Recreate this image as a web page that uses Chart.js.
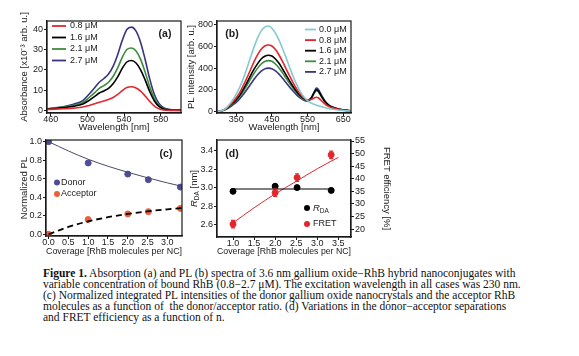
<!DOCTYPE html>
<html>
<head>
<meta charset="utf-8">
<script src="https://cdn.jsdelivr.net/npm/chart.js@4.4.1/dist/chart.umd.min.js"></script>
<style>
  body { margin: 0; background: #fff; width: 579px; height: 356px; position: relative; overflow: hidden; }
  .panel { position: absolute; }
  #cap { position: absolute; left: 43px; top: 268px; font-family: "Liberation Serif", "Times New Roman", serif;
         font-size: 11.5px; line-height: 11px; color: #111; white-space: nowrap; }
</style>
</head>
<body>
<canvas id="chartA" class="panel" width="173" height="133" style="left:19px;top:0px"></canvas>
<canvas id="chartB" class="panel" width="204" height="133" style="left:186px;top:0px"></canvas>
<canvas id="chartC" class="panel" width="173" height="127" style="left:19px;top:130px"></canvas>
<canvas id="chartD" class="panel" width="206" height="127" style="left:186px;top:130px"></canvas>
<div id="cap"><b>Figure 1.</b> Absorption (a) and PL (b) spectra of 3.6 nm gallium oxide−RhB hybrid nanoconjugates with<br>variable concentration of bound RhB (0.8−2.7 μM). The excitation wavelength in all cases was 230 nm.<br>(c) Normalized integrated PL intensities of the donor gallium oxide nanocrystals and the acceptor RhB<br>molecules as a function of&nbsp; the donor/acceptor ratio. (d) Variations in the donor−acceptor separations<br>and FRET efficiency as a function of n.</div>
<script>
// (a) absorption spectra
const wlAbs = [456, 465, 475, 485, 495, 502, 508, 513, 518, 523, 528, 533, 538, 543, 548, 553, 558, 563, 568, 573, 578, 583, 590, 602];
const abs08 = [0.6, 0.8, 1.0, 1.3, 1.8, 2.6, 3.4, 4.2, 4.8, 5.5, 6.5, 8.0, 9.9, 11.4, 11.8, 11.2, 9.6, 7.2, 4.5, 2.3, 1.0, 0.4, 0.2, 0.1];
const abs16 = [0.8, 1.1, 1.6, 2.2, 3.3, 5.1, 7.0, 8.7, 9.7, 11.0, 13.2, 16.6, 20.8, 23.9, 24.6, 23.4, 20.1, 15.0, 9.3, 4.8, 2.1, 0.9, 0.4, 0.2];
const abs21 = [0.9, 1.3, 1.9, 2.7, 4.1, 6.5, 8.9, 11.0, 12.3, 14.0, 16.8, 21.0, 26.2, 30.0, 30.8, 29.3, 25.2, 18.8, 11.7, 6.0, 2.7, 1.1, 0.5, 0.3];
const abs27 = [1.0, 1.4, 2.1, 3.2, 5.0, 8.2, 11.3, 14.0, 15.8, 18.0, 21.8, 27.5, 34.5, 39.8, 41.0, 39.0, 33.5, 25.0, 15.5, 8.0, 3.6, 1.5, 0.6, 0.4];
const absTicksX = [460, 500, 540, 580];
const absTicksY = [0, 10, 20, 30, 40];

// (b) PL spectra
const wlPL = [290, 300, 310, 320, 330, 340, 350, 360, 370, 380, 390, 400, 410, 420, 430, 440, 450, 460, 470, 480, 490, 500, 510, 520, 530, 540, 550, 560, 570, 575, 580, 590, 600, 610, 620, 640, 660, 680];
const pl00 = [0, 1, 6, 25, 60, 105, 160, 225, 305, 400, 500, 595, 680, 745, 780, 790, 770, 725, 660, 580, 495, 405, 320, 245, 180, 132, 98, 76, 62, 57, 52, 42, 33, 25, 18, 9, 4, 2];
const pl08 = [0, 1, 6, 22, 50, 85, 125, 175, 240, 310, 385, 460, 525, 575, 605, 615, 605, 572, 522, 460, 392, 325, 262, 205, 158, 125, 107, 110, 126, 130, 125, 95, 65, 45, 32, 15, 7, 3];
const pl16 = [0, 1, 5, 20, 44, 74, 108, 150, 205, 265, 330, 390, 442, 485, 510, 520, 512, 485, 445, 392, 335, 280, 228, 182, 144, 117, 103, 122, 182, 200, 190, 135, 85, 55, 38, 18, 8, 3];
const pl21 = [0, 1, 5, 19, 41, 68, 98, 137, 186, 240, 298, 352, 400, 438, 462, 470, 463, 438, 402, 356, 305, 256, 210, 168, 134, 110, 99, 116, 172, 190, 182, 130, 82, 53, 37, 17, 7, 3];
const pl27 = [0, 1, 4, 16, 35, 58, 83, 116, 157, 202, 250, 297, 338, 372, 393, 400, 394, 374, 344, 306, 264, 223, 185, 150, 121, 101, 93, 116, 188, 215, 205, 145, 90, 58, 40, 19, 8, 3];
const plTicksX = [350, 450, 550, 650];
const plTicksY = [0, 200, 400, 600, 800];

// (c) normalized PL vs coverage
const coverage = [0.0, 1.0, 2.0, 2.52, 3.33];
const donorPL = [1.0, 0.77, 0.65, 0.59, 0.51];
const acceptorPL = [0.0, 0.16, 0.22, 0.245, 0.28];
const fitX = [0.0, 0.5, 1.0, 1.5, 2.0, 2.5, 3.0, 3.4];
const donorFit = [1.0, 0.9, 0.81, 0.735, 0.67, 0.61, 0.555, 0.515];
const acceptorFit = [0.0, 0.08, 0.14, 0.185, 0.22, 0.248, 0.27, 0.285];
const covTicksX = [0, 0.5, 1.0, 1.5, 2.0, 2.5, 3.0];
const normTicksY = [0, 0.2, 0.4, 0.6, 0.8, 1.0];

// (d) R_DA and FRET efficiency
const covD = [1.0, 2.0, 2.52, 3.33];
const rda = [2.96, 3.015, 3.0, 2.97];
const rdaErr = [0.02, 0.02, 0.02, 0.02];
const rdaMean = 2.985;
const fret = [22, 34.5, 40.5, 49.5];
const fretErr = [1.5, 1.5, 1.5, 1.5];
const fretFitX = [1.0, 1.5, 2.0, 2.5, 3.0, 3.5];
const fretFit = [22.5, 28.5, 34, 39, 44, 48.5];
const covDTicksX = [1.0, 1.5, 2.0, 2.5, 3.0, 3.5];
const rdaTicksY = [2.6, 2.8, 3.0, 3.2, 3.4];
const fretTicksY = [20, 25, 30, 35, 40, 45, 50, 55];

const FONT = '"Liberation Sans", Arial, sans-serif';
const INK = '#1a1a1a';
const RED = '#e3262d', GREEN = '#3d8c3d', NAVY = '#38357e', CYAN = '#86c9cf';
const BLUEDOT = '#4f4c98', ORANGE = '#e9603a';

const pts = (xs, ys) => xs.map((x, i) => ({ x: x, y: ys[i] }));

function axis(min, max, ticks, title, size, extra) {
  return Object.assign({
    type: 'linear', min: min, max: max,
    afterBuildTicks: s => { s.ticks = ticks.map(v => ({ value: v })); },
    ticks: { color: INK, font: { family: FONT, size: 9 }, padding: 1, maxRotation: 0 },
    grid: { drawOnChartArea: false, drawTicks: true, tickLength: 3, color: INK, lineWidth: 1 },
    border: { color: INK, width: 1.2 },
    title: { display: !!title, text: title, color: INK, font: { family: FONT, size: 9.5 }, padding: 0 },
    afterFit: s => { if (s.isHorizontal()) s.height = size; else s.width = size; }
  }, extra || {});
}

// x axes: labels tucked right under the frame like the original
const xTicks = fmt => ({ ticks: { color: INK, font: { family: FONT, size: 9 }, padding: -2, maxRotation: 0, callback: fmt } });

// frame, panel tag and in-plot legend
const deco = {
  id: 'deco',
  afterDraw(chart, args, o) {
    const ctx = chart.ctx, a = chart.chartArea;
    ctx.save();
    ctx.strokeStyle = INK; ctx.lineWidth = 1.2;
    ctx.strokeRect(a.left, a.top, a.right - a.left, a.bottom - a.top);
    ctx.translate(-o.ox, -o.oy);
    ctx.fillStyle = INK;
    ctx.font = 'bold 10.5px ' + FONT;
    ctx.textAlign = 'center'; ctx.textBaseline = 'middle';
    ctx.fillText(o.tag, o.tagX, o.tagY);
    ctx.font = '9px ' + FONT;
    ctx.textAlign = 'left';
    const items = chart.data.datasets.filter(d => d.key);
    items.forEach((d, i) => {
      const y = o.legY + i * o.legDy;
      if (o.legMark === 'line') {
        ctx.strokeStyle = d.borderColor; ctx.lineWidth = 1.8;
        ctx.beginPath(); ctx.moveTo(o.legX, y); ctx.lineTo(o.legX + o.legLen, y); ctx.stroke();
      } else {
        ctx.fillStyle = d.backgroundColor;
        ctx.beginPath(); ctx.arc(o.legX + 3, y, 3, 0, Math.PI * 2); ctx.fill();
      }
      ctx.fillStyle = INK;
      const tx = o.legX + o.legLen + o.legGap;
      if (d.key === 'RDA') {
        ctx.font = 'italic 9.5px ' + FONT;
        ctx.fillText('R', tx, y);
        const w = ctx.measureText('R').width;
        ctx.font = '6.5px ' + FONT;
        ctx.fillText('DA', tx + w, y + 3);
        ctx.font = '9px ' + FONT;
      } else {
        ctx.fillText(d.key, tx, y);
      }
    });
    ctx.restore();
  }
};

// error bars and rotated R_DA title for panel (d)
const extras = {
  id: 'extras',
  afterDatasetsDraw(chart) {
    const ctx = chart.ctx, x = chart.scales.x;
    ctx.save();
    chart.data.datasets.forEach(d => {
      if (!d.err) return;
      const ys = chart.scales[d.yAxisID];
      ctx.strokeStyle = d.backgroundColor; ctx.lineWidth = 1.2;
      d.data.forEach((p, i) => {
        const px = x.getPixelForValue(p.x);
        const y1 = ys.getPixelForValue(p.y - d.err[i]), y2 = ys.getPixelForValue(p.y + d.err[i]);
        ctx.beginPath();
        ctx.moveTo(px, y1); ctx.lineTo(px, y2);
        ctx.moveTo(px - 2, y1); ctx.lineTo(px + 2, y1);
        ctx.moveTo(px - 2, y2); ctx.lineTo(px + 2, y2);
        ctx.stroke();
      });
    });
    ctx.restore();
  },
  afterDraw(chart) {
    const ctx = chart.ctx, a = chart.chartArea;
    ctx.save();
    ctx.translate(8, (a.top + a.bottom) / 2);
    ctx.rotate(-Math.PI / 2);
    ctx.fillStyle = INK; ctx.textBaseline = 'middle';
    ctx.font = 'italic 9.5px ' + FONT;
    const w1 = ctx.measureText('R').width;
    ctx.font = '6.5px ' + FONT;
    const w2 = ctx.measureText('DA').width;
    ctx.font = '9.5px ' + FONT;
    const w3 = ctx.measureText(' [nm]').width;
    let sx = -(w1 + w2 + w3) / 2;
    ctx.font = 'italic 9.5px ' + FONT; ctx.fillText('R', sx, 0); sx += w1;
    ctx.font = '6.5px ' + FONT; ctx.fillText('DA', sx, 3); sx += w2;
    ctx.font = '9.5px ' + FONT; ctx.fillText(' [nm]', sx, 0);
    ctx.restore();
  }
};

function lineSet(key, xs, ys, color) {
  return { key: key, data: pts(xs, ys), borderColor: color, backgroundColor: color, borderWidth: 1.6,
           pointRadius: 0, showLine: true, cubicInterpolationMode: 'monotone' };
}

const base = { responsive: false, animation: false, events: [] };
const oneDec = v => v.toFixed(1);

new Chart(document.getElementById('chartA'), {
  type: 'scatter',
  data: { datasets: [
    lineSet('0.8 μM', wlAbs, abs08, RED),
    lineSet('1.6 μM', wlAbs, abs16, '#000'),
    lineSet('2.1 μM', wlAbs, abs21, GREEN),
    lineSet('2.7 μM', wlAbs, abs27, NAVY)
  ] },
  options: Object.assign({}, base, {
    layout: { padding: { top: 21, right: 11, left: 0, bottom: 0 } },
    scales: {
      x: axis(456, 602, absTicksX, 'Wavelength [nm]', 20, xTicks()),
      y: axis(-1.1, 44, absTicksY, 'Absorbance [x10⁻³ arb. u.]', 28)
    },
    plugins: { legend: { display: false }, tooltip: { enabled: false },
      deco: { ox: 19, oy: 0, tag: '(a)', tagX: 165, tagY: 34, legX: 52, legY: 26, legDy: 11.5, legLen: 14, legGap: 4, legMark: 'line' } }
  }),
  plugins: [deco]
});

new Chart(document.getElementById('chartB'), {
  type: 'scatter',
  data: { datasets: [
    lineSet('0.0 μM', wlPL, pl00, CYAN),
    lineSet('0.8 μM', wlPL, pl08, RED),
    lineSet('1.6 μM', wlPL, pl16, '#000'),
    lineSet('2.1 μM', wlPL, pl21, GREEN),
    lineSet('2.7 μM', wlPL, pl27, NAVY)
  ] },
  options: Object.assign({}, base, {
    layout: { padding: { top: 21, right: 39, left: 0, bottom: 0 } },
    scales: {
      x: axis(296, 672, plTicksX, 'Wavelength [nm]', 20, xTicks()),
      y: axis(-16, 837, plTicksY, 'PL intensity [arb. u.]', 31)
    },
    plugins: { legend: { display: false }, tooltip: { enabled: false },
      deco: { ox: 186, oy: 0, tag: '(b)', tagX: 232, tagY: 34, legX: 305, legY: 29.5, legDy: 10.6, legLen: 11, legGap: 3, legMark: 'line' } }
  }),
  plugins: [deco]
});

new Chart(document.getElementById('chartC'), {
  type: 'scatter',
  data: { datasets: [
    { data: pts(fitX, donorFit), borderColor: '#4a4a66', borderWidth: 1, pointRadius: 0, showLine: true, cubicInterpolationMode: 'monotone' },
    { data: pts(fitX, acceptorFit), borderColor: '#000', borderWidth: 1.8, borderDash: [6, 4], pointRadius: 0, showLine: true, cubicInterpolationMode: 'monotone' },
    { key: 'Donor', data: pts(coverage, donorPL), backgroundColor: BLUEDOT, borderColor: BLUEDOT, pointRadius: 3, showLine: false },
    { key: 'Acceptor', data: pts(coverage, acceptorPL), backgroundColor: ORANGE, borderColor: ORANGE, pointRadius: 3, showLine: false }
  ] },
  options: Object.assign({}, base, {
    layout: { padding: { top: 10, right: 10, left: 0, bottom: 0 } },
    scales: {
      x: axis(-0.065, 3.37, covTicksX, 'Coverage [RhB molecules per NC]', 21, xTicks(oneDec)),
      y: axis(-0.018, 1.018, normTicksY, 'Normalized PL', 27, { ticks: { color: INK, font: { family: FONT, size: 9 }, padding: 1, callback: oneDec } })
    },
    plugins: { legend: { display: false }, tooltip: { enabled: false },
      deco: { ox: 19, oy: 130, tag: '(c)', tagX: 166, tagY: 154, legX: 54, legY: 182.5, legDy: 11.5, legLen: 6, legGap: 1, legMark: 'dot' } }
  }),
  plugins: [deco]
});

new Chart(document.getElementById('chartD'), {
  type: 'scatter',
  data: { datasets: [
    { data: [{ x: covD[0], y: rdaMean }, { x: covD[covD.length - 1], y: rdaMean }], yAxisID: 'y', borderColor: '#000', borderWidth: 1.2, pointRadius: 0, showLine: true },
    { data: pts(fretFitX, fretFit), yAxisID: 'y2', borderColor: RED, borderWidth: 1, pointRadius: 0, showLine: true, cubicInterpolationMode: 'monotone' },
    { key: 'RDA', data: pts(covD, rda), err: rdaErr, yAxisID: 'y', backgroundColor: '#000', borderColor: '#000', pointRadius: 3, showLine: false },
    { key: 'FRET', data: pts(covD, fret), err: fretErr, yAxisID: 'y2', backgroundColor: RED, borderColor: RED, pointRadius: 3, showLine: false }
  ] },
  options: Object.assign({}, base, {
    layout: { padding: { top: 10, right: 0, left: 0, bottom: 0 } },
    scales: {
      x: axis(0.62, 3.8, covDTicksX, 'Coverage [RhB molecules per NC]', 20, xTicks(oneDec)),
      y: axis(2.465, 3.516, rdaTicksY, '', 31, { ticks: { color: INK, font: { family: FONT, size: 9 }, padding: 1, callback: oneDec } }),
      y2: axis(16.9, 55.4, fretTicksY, 'FRET efficiency [%]', 41, { position: 'right' })
    },
    plugins: { legend: { display: false }, tooltip: { enabled: false },
      deco: { ox: 186, oy: 130, tag: '(d)', tagX: 232, tagY: 154.5, legX: 304, legY: 208, legDy: 16, legLen: 6, legGap: 3, legMark: 'dot' } }
  }),
  plugins: [deco, extras]
});
</script>
</body>
</html>
